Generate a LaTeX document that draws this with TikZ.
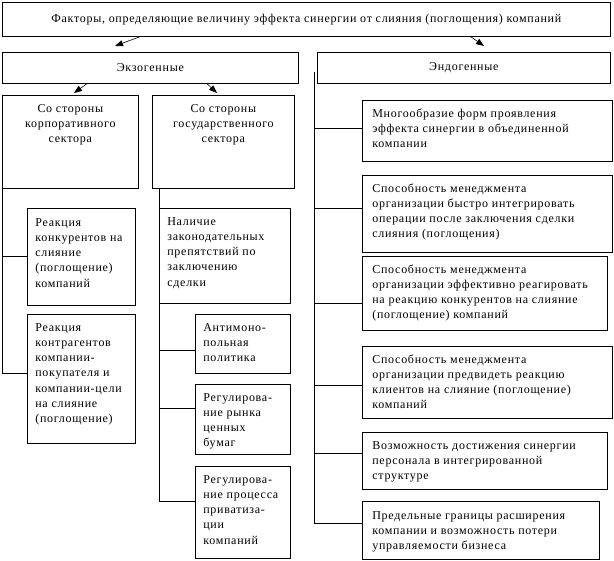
\documentclass[tikz,border=0pt]{standalone}
\usepackage{fontspec}
\setmainfont[LetterSpace=6]{Liberation Serif}
\usetikzlibrary{positioning,arrows.meta,calc}
\newcommand{\lcell}[3]{\parbox[t][\dimexpr#2pt-12pt][t]{\dimexpr#1pt-16pt}{\begin{tabular}[t]{@{}l@{}}#3\end{tabular}}}
\newcommand{\ccell}[3]{\parbox[t][\dimexpr#2pt-12pt][t]{\dimexpr#1pt-16pt}{\centering\begin{tabular}[t]{@{}c@{}}#3\end{tabular}}}

\begin{document}
\begin{tikzpicture}[x=1pt,y=-1pt,
  font=\fontsize{12}{15.3}\selectfont,
  box/.style={draw,line width=0.7pt,anchor=north west,inner xsep=8pt,inner ysep=6pt},
  head/.style={draw,line width=0.7pt,anchor=north west,inner sep=0pt},
  ln/.style={line width=0.7pt},
  arr/.style={line width=0.6pt,-{Triangle[length=8pt,width=6pt]}}]
\useasboundingbox (0,0) rectangle (614,561);
% Title and two groups
\node[head,minimum width=608pt,minimum height=34pt] (title) at (2,2) {Факторы, определяющие величину эффекта синергии от слияния (поглощения) компаний};
\node[head,minimum width=296pt,minimum height=31pt] (exo) at (2,52) {Экзогенные};
\node[head,minimum width=293pt,minimum height=31pt] (endo) at (317,52) {Эндогенные};
\draw[arr] ([xshift=138pt]title.south west) -- ([xshift=113pt,yshift=6pt]exo.north west);
\draw[arr] ([xshift=-140pt]title.south east) -- ([xshift=167pt,yshift=6pt]endo.north west);
% Exogenous side
\node[box] (corp) at (2,95) {\ccell{136}{93}{Со стороны\\корпоративного\\сектора}};
\node[box] (gov) at (152,95) {\ccell{142}{93}{Со стороны\\государственного\\сектора}};
\draw[arr] ([xshift=85pt]exo.south west) -- ([xshift=72pt,yshift=2pt]corp.north west);
\draw[arr] ([xshift=205pt]exo.south west) -- ([xshift=65pt,yshift=2pt]gov.north west);
\node[box,inner ysep=7pt] (rk) at (27,208) {\lcell{108}{95}{Реакция\\конкурентов на\\слияние\\(поглощение)\\компаний}};
\node[box] (rka) at (27,314) {\lcell{108}{129}{Реакция\\контрагентов\\компании-\\покупателя и\\компании-цели\\на слияние\\(поглощение)}};
\draw[ln] (corp.south west) |- ([yshift=5pt]rka.west);
\draw[ln] (corp.south west |- rk.west) -- (rk.west);
\node[box] (nal) at (159,208) {\lcell{131}{95}{Наличие\\законодательных\\препятствий по\\заключению\\сделки}};
\node[box] (anti) at (195,314) {\lcell{95}{59}{Антимоно-\\польная\\политика}};
\node[box] (rcb) at (195,384) {\lcell{95}{70}{Регулирова-\\ние рынка\\ценных\\бумаг}};
\node[box] (priv) at (195,466) {\lcell{95}{92}{Регулирова-\\ние процесса\\приватиза-\\ции\\компаний}};
\coordinate (gtop) at ([xshift=7pt]gov.south west);
\draw[ln] (gtop) |- ([yshift=11pt]priv.west);
\draw[ln] (gtop |- anti.west) ++(0,6.5) -- ([yshift=-6.5pt]anti.west);
\draw[ln] (gtop |- rcb.west) ++(0,-11) -- ([yshift=11pt]rcb.west);
% Endogenous side
\node[box,inner xsep=10pt] (r1) at (362,100) {\lcell{246}{61}{Многообразие форм проявления\\эффекта синергии в объединенной\\компании}};
\node[box,inner xsep=10pt] (r2) at (362,175) {\lcell{246}{77}{Способность менеджмента\\организации быстро интегрировать\\операции после заключения сделки\\слияния (поглощения)}};
\node[box,inner xsep=10pt] (r3) at (362,256) {\lcell{241}{74}{Способность менеджмента\\организации эффективно реагировать\\на реакцию конкурентов на слияние\\(поглощение) компаний}};
\node[box,inner xsep=10pt] (r4) at (362,346) {\lcell{246}{72}{Способность менеджмента\\организации предвидеть реакцию\\клиентов на слияние (поглощение)\\компаний}};
\node[box,inner xsep=10pt] (r5) at (362,432) {\lcell{241}{57}{Возможность достижения синергии\\персонала в интегрированной\\структуре}};
\node[box,inner xsep=10pt,inner ysep=7pt] (r6) at (362,501) {\lcell{233}{56}{Предельные границы расширения\\компании и возможность потери\\управляемости бизнеса}};
\coordinate (etop) at ([xshift=-3pt,yshift=-4pt]endo.west);
\draw[ln] (etop) |- ([yshift=7pt]r6.west);
\foreach \b/\s in {r1/2.5,r2/5.5,r3/-10,r4/-3,r5/7.5}
  \draw[ln] (etop |- \b.west) ++(0,-\s) -- ([yshift=\s pt]\b.west);
\end{tikzpicture}
\end{document}
